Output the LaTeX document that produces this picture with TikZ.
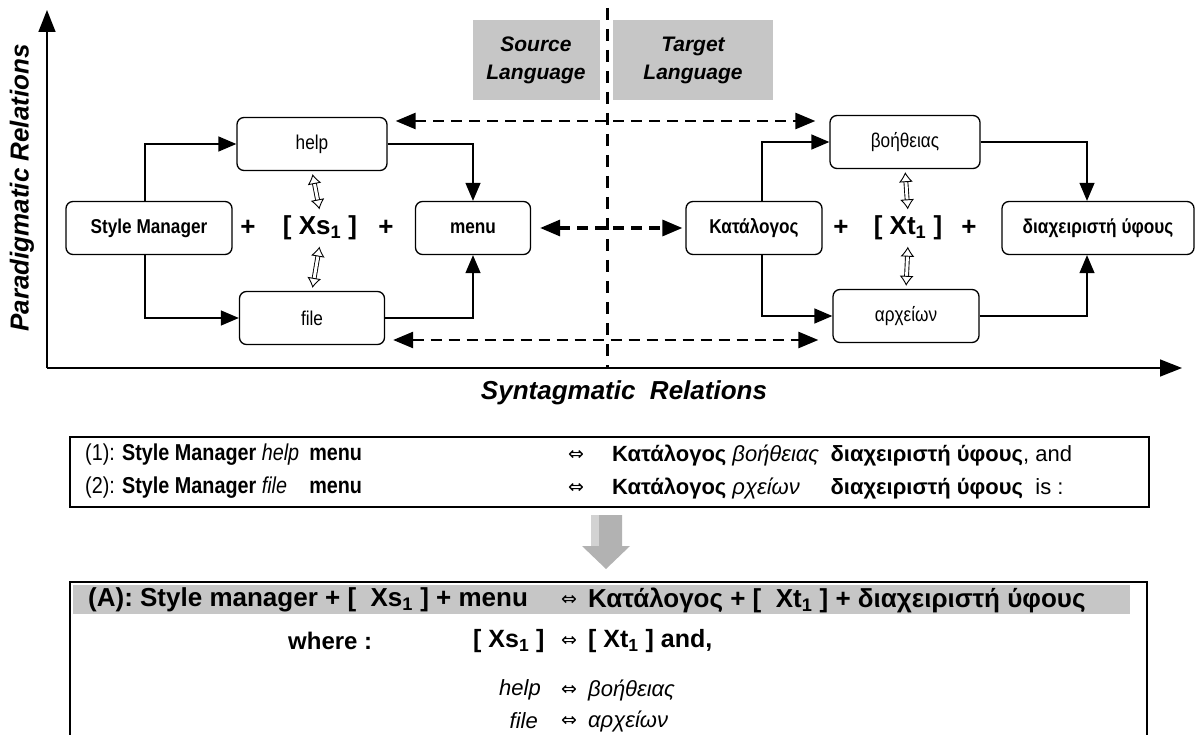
\documentclass[tikz,border=0pt]{standalone}
\usepackage{fontspec}
\setmainfont{Liberation Sans}
\newfontfamily\narrowsf{Liberation Sans}[FakeStretch=0.86]
\newfontfamily\symsf{DejaVu Sans}
\usetikzlibrary{arrows.meta,positioning,shapes.arrows}

\newcommand\eqv{{\symsf\fontsize{19}{19}\selectfont ⇔}}
\newcommand\sub[1]{\textsubscript{#1}}

\tikzset{
  wbox/.style={draw, rounded corners=7pt, line width=1.3pt, minimum height=53pt,
               inner sep=0pt, font=\narrowsf\fontsize{20}{24}\selectfont},
  arr/.style={line width=1.3pt, -{Triangle[length=18pt,width=15pt]}},
  dasharr/.style={line width=2.6pt, dash pattern=on 11pt off 7pt,
                  {Triangle[length=20pt,width=16pt]}-{Triangle[length=20pt,width=16pt]}},
  hollow/.style={line width=0.9pt, double distance=3pt,
                 {Latex[open,length=10pt,width=14pt]}-{Latex[open,length=10pt,width=14pt]}},
  lang/.style={fill=gray!45, minimum height=80pt, align=center, inner sep=0pt,
               font=\bfseries\itshape\fontsize{21}{28}\selectfont},
  axlabel/.style={font=\bfseries\itshape\fontsize{26}{30}\selectfont},
  term/.style={font=\bfseries\fontsize{26}{30}\selectfont},
  line/.style={anchor=west, inner sep=0pt, font=\fontsize{22}{26}\selectfont},
  nline/.style={line, font=\narrowsf\fontsize{23}{26}\selectfont},
  hline/.style={line, font=\bfseries\fontsize{26}{30}\selectfont},
}

\begin{document}
\begin{tikzpicture}[x=1pt, y=-1pt]
  \useasboundingbox (0,0) rectangle (1196,735);
  % axes and the language divider
  \draw[line width=1.5pt, -{Triangle[length=22pt,width=17pt]}] (47,368) -- (47,10);
  \draw[line width=1.5pt, -{Triangle[length=22pt,width=17pt]}] (47,368) -- (1182,368);
  \node[axlabel, rotate=90] (parad) at (22,188) {Paradigmatic Relations};
  \node[axlabel] (syntag) at (624,393) {Syntagmatic\ \ Relations};
  \draw[line width=3pt, dash pattern=on 12pt off 9pt] (607,8) -- (607,368);
  \node[lang, minimum width=127pt] (src) at (536,60) {Source\\Language};
  \node[lang, minimum width=160pt] (tgt) at (693,60) {Target\\Language};

  % source side
  \node[wbox, minimum width=166pt] (sm)   at (149,228) {\bfseries Style Manager};
  \node[wbox, minimum width=150pt] (help) at (312,144) {help};
  \node[wbox, minimum width=145pt] (file) at (312,318) {file};
  \node[wbox, minimum width=115pt] (menu) at (473,228) {\bfseries menu};
  \node[term] (p1) at (248,228) {+};
  \node[term] (xs) at (320,228) {[ Xs\sub{1} ]};
  \node[term] (p2) at (386,228) {+};

  % target side
  \node[wbox, minimum width=136pt] (kat)   at (754,228) {\bfseries Κατάλογος};
  \node[wbox, minimum width=150pt] (boith) at (905,142) {βοήθειας};
  \node[wbox, minimum width=146pt] (arx)   at (906,316) {αρχείων};
  \node[wbox, minimum width=192pt] (diax)  at (1098,228) {\bfseries διαχειριστή ύφους};
  \node[term] (p3) at (841,228) {+};
  \node[term] (xt) at (908,228) {[ Xt\sub{1} ]};
  \node[term] (p4) at (969,228) {+};

  % paths through the paradigms
  \draw[arr] ([xshift=-4pt]sm.north) |- (help.west);
  \draw[arr] ([xshift=-4pt]sm.south) |- (file.west);
  \draw[arr] (help.east) -| (menu.north);
  \draw[arr] (file.east) -| (menu.south);
  \draw[arr] ([xshift=8pt]kat.north) |- (boith.west);
  \draw[arr] ([xshift=8pt]kat.south) |- (arx.west);
  \draw[arr] (boith.east) -| ([xshift=-11pt]diax.north);
  \draw[arr] (arx.east) -| ([xshift=-11pt]diax.south);
  \foreach \a/\b in {help/xs, xs/file, boith/xt, xt/arx}
    \draw[hollow, shorten <=3pt, shorten >=3pt] (\a.south) -- (\b.north);

  % correspondences between the languages
  \draw[dasharr, shorten <=8pt, shorten >=14pt]
    ([yshift=23pt]help.east) -- ([yshift=23pt]help.east -| boith.west);
  \draw[dasharr, shorten <=8pt, shorten >=14pt]
    ([yshift=-22pt]file.east) -- ([yshift=-22pt]file.east -| arx.west);
  \draw[dasharr, line width=3.2pt, shorten <=9pt, shorten >=3pt] (menu.east) -- (kat.west);

  % the two readings
  \draw[line width=1.5pt] (70,437) rectangle (1149,507);
  \node[nline] (r1a) at (85,455)
    {(1): \textbf{Style Manager} \makebox[42pt][l]{\textit{help}} \textbf{menu}};
  \node[nline] (r2a) at (85,488)
    {(2): \textbf{Style Manager} \makebox[42pt][l]{\textit{file}} \textbf{menu}};
  \node[line] (r1e) at (568,455) {\eqv};
  \node[line] (r2e) at (568,488) {\eqv};
  \node[line] (r1b) at (612,455)
    {\textbf{Κατάλογος} \makebox[92pt][l]{\textit{βοήθειας}} \textbf{διαχειριστή ύφους}, and};
  \node[line] (r2b) at (612,488)
    {\textbf{Κατάλογος} \makebox[92pt][l]{\textit{ρχείων}} \textbf{διαχειριστή ύφους} \ is :};

  % arrow down to the generalisation
  \fill[gray!60] (591,515) -- (622,515) -- (622,546) -- (630,546) -- (606,569)
    -- (582,546) -- (591,546) -- cycle;
  \fill[gray!35] (591,515) -- (599,515) -- (599,546) -- (591,546) -- cycle;

  % the generalisation
  \draw[line width=1.5pt] (70,745) -- (70,582) -- (1147,582) -- (1147,745);
  \fill[gray!45] (73,585) rectangle (1130,614);
  \node[hline] (ha) at (88,600) {(A): Style manager + [\ \ Xs\sub{1} ] + menu};
  \node[line] (he) at (561,600) {\eqv};
  \node[hline] (hb) at (588,600) {Κατάλογος + [\ \ Xt\sub{1} ] + διαχειριστή ύφους};
  \node[line, font=\bfseries\fontsize{24}{28}\selectfont] (wh) at (288,641) {where :};
  \node[line, font=\bfseries\fontsize{25}{28}\selectfont] (wa) at (473,641) {[\ Xs\sub{1} ]};
  \node[line] (we) at (561,641) {\eqv};
  \node[line, font=\bfseries\fontsize{25}{28}\selectfont] (wb) at (588,641) {[\ Xt\sub{1} ] and,};
  \node[line, anchor=east, font=\itshape\fontsize{22}{26}\selectfont] (ha2) at (541,690) {help};
  \node[line] (he2) at (561,690) {\eqv};
  \node[line, font=\itshape\fontsize{22}{26}\selectfont] (hb2) at (588,690) {βοήθειας};
  \node[line, anchor=east, font=\itshape\fontsize{22}{26}\selectfont] (fa2) at (538,721) {file};
  \node[line] (fe2) at (561,721) {\eqv};
  \node[line, font=\itshape\fontsize{22}{26}\selectfont] (fb2) at (588,721) {αρχείων};
\end{tikzpicture}
\end{document}
